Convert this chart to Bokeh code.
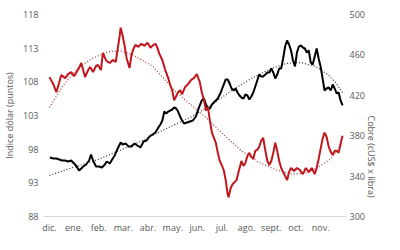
from bokeh.plotting import figure
from bokeh.models import Range1d, LinearAxis, FixedTicker
from bokeh.embed import file_html
from bokeh.resources import INLINE

meses = ["dic.", "ene.", "feb.", "mar.", "abr.", "may.", "jun.", "jul.", "ago.", "sept.", "oct.", "nov."]

cobre_x = [0, 0.16, 0.28, 0.40, 0.48, 0.64, 0.76, 0.88, 1.00, 1.08, 1.20, 1.29, 1.37, 1.45, 1.57, 1.65, 1.77, 1.89, 1.97, 2.09,
           2.17, 2.29, 2.37, 2.45, 2.57, 2.69, 2.77, 2.85, 2.89, 2.97, 3.05, 3.13, 3.25, 3.33, 3.41, 3.49, 3.61, 3.73, 3.86, 3.98,
           4.10, 4.22, 4.30, 4.38, 4.46, 4.58, 4.70, 4.82, 4.90, 4.98, 5.06, 5.14, 5.22, 5.30, 5.38, 5.50, 5.62, 5.74, 5.86, 5.98,
           6.10, 6.18, 6.27, 6.35, 6.43, 6.51, 6.59, 6.67, 6.75, 6.83, 6.91, 6.99, 7.07, 7.15, 7.23, 7.27, 7.35, 7.43, 7.51, 7.59,
           7.67, 7.79, 7.87, 7.95, 8.03, 8.11, 8.19, 8.27, 8.35, 8.43, 8.51, 8.59, 8.67, 8.76, 8.84, 8.92, 9.00, 9.08, 9.16, 9.24,
           9.32, 9.40, 9.48, 9.56, 9.64, 9.72, 9.80, 9.92, 10.04, 10.16, 10.28, 10.40, 10.52, 10.64, 10.76, 10.84, 10.92, 11.00, 11.08, 11.16,
           11.24, 11.33, 11.41, 11.49, 11.57, 11.65, 11.73, 11.81, 11.89]
cobre = [438, 431, 423, 433, 440, 437, 441, 443, 439, 442,
         447, 452, 445, 438, 445, 448, 443, 449, 450, 445,
         462, 455, 453, 452, 455, 453, 466, 479, 487, 479,
         469, 457, 447, 460, 466, 470, 468, 471, 469, 472,
         467, 470, 471, 467, 461, 455, 445, 437, 430, 425,
         415, 419, 423, 425, 421, 428, 431, 435, 437, 441,
         433, 423, 415, 405, 408, 395, 383, 378, 373, 363,
         355, 351, 346, 336, 322, 319, 328, 332, 334, 336,
         344, 355, 350, 353, 360, 363, 359, 357, 365, 366,
         369, 375, 378, 365, 355, 351, 355, 363, 373, 365,
         355, 348, 344, 340, 336, 344, 348, 345, 348, 346,
         342, 348, 344, 348, 342, 348, 357, 367, 377, 383,
         379, 369, 364, 361, 365, 365, 363, 372, 380]

dolar_x = [0.02, 0.16, 0.28, 0.40, 0.52, 0.64, 0.76, 0.88, 0.96, 1.08, 1.20, 1.29, 1.37, 1.49, 1.61, 1.69, 1.77, 1.89, 2.01, 2.13,
           2.25, 2.33, 2.45, 2.57, 2.65, 2.73, 2.81, 2.89, 2.97, 3.09, 3.21, 3.33, 3.45, 3.57, 3.69, 3.82, 3.94, 4.06, 4.18, 4.30,
           4.42, 4.50, 4.58, 4.66, 4.74, 4.82, 4.90, 4.98, 5.06, 5.14, 5.22, 5.30, 5.38, 5.46, 5.58, 5.70, 5.82, 5.94, 6.02, 6.10,
           6.18, 6.27, 6.35, 6.43, 6.51, 6.59, 6.71, 6.83, 6.95, 7.07, 7.15, 7.23, 7.31, 7.39, 7.47, 7.55, 7.63, 7.71, 7.79, 7.87,
           7.95, 8.03, 8.11, 8.19, 8.27, 8.35, 8.43, 8.51, 8.59, 8.67, 8.76, 8.84, 8.92, 9.00, 9.08, 9.16, 9.24, 9.32, 9.40, 9.48,
           9.56, 9.64, 9.72, 9.80, 9.88, 9.96, 10.04, 10.12, 10.20, 10.28, 10.36, 10.44, 10.52, 10.60, 10.68, 10.76, 10.84, 10.92, 11.00, 11.08,
           11.16, 11.24, 11.33, 11.41, 11.49, 11.57, 11.65, 11.73, 11.81, 11.89]
dolar = [96.76, 96.61, 96.61, 96.47, 96.32, 96.32, 96.17, 96.32, 96.02, 95.57,
         94.83, 95.13, 95.42, 95.72, 96.32, 97.21, 96.32, 95.42, 95.42, 95.28,
         95.72, 96.17, 95.87, 96.61, 97.06, 97.80, 98.40, 98.99, 98.69, 98.84,
         98.40, 98.40, 98.84, 98.54, 98.25, 99.14, 99.29, 99.88, 100.18, 100.48,
         101.22, 101.66, 102.26, 103.59, 103.30, 103.59, 103.74, 103.89, 104.19, 104.04,
         103.59, 102.85, 102.26, 101.81, 101.96, 102.11, 102.26, 102.85, 103.74, 104.49,
         105.23, 105.52, 104.63, 104.04, 104.04, 104.63, 105.08, 105.52, 106.42, 107.60,
         108.35, 108.35, 107.75, 107.01, 106.71, 107.01, 106.42, 105.97, 105.67, 105.52,
         106.12, 105.97, 105.38, 105.82, 106.42, 107.31, 108.20, 109.09, 108.79, 108.79,
         109.09, 109.39, 109.39, 109.98, 109.39, 108.49, 109.09, 109.98, 109.98, 111.46,
         113.24, 114.14, 113.54, 112.65, 111.16, 110.28, 112.35, 113.24, 113.40, 113.10,
         112.95, 112.35, 112.65, 110.87, 110.57, 111.76, 112.95, 111.46, 110.28, 108.49,
         106.71, 107.01, 107.16, 106.71, 107.60, 107.01, 106.27, 106.42, 105.23, 104.49]

tend_cobre_x = [0, 0.56, 1.16, 1.77, 2.37, 2.89, 3.37, 4.18, 4.70, 5.18, 5.78, 6.39, 7.11, 7.79, 8.47, 9.20, 9.88, 10.40, 10.92, 11.41, 11.89]
tend_cobre = [408, 430, 447, 457, 463, 464, 460, 449, 435, 422, 410, 397, 380, 365, 354, 346, 342, 343, 349, 357, 372]

tend_dolar_x = [0, 0.96, 1.97, 2.85, 3.78, 4.58, 5.78, 6.59, 7.39, 8.19, 9.00, 9.60, 10.20, 10.80, 11.29, 11.61, 11.89]
tend_dolar = [94.09, 95.28, 96.47, 97.80, 99.29, 100.77, 102.85, 104.63, 106.71, 108.49, 109.98, 110.72, 110.87, 110.28, 109.09, 107.90, 106.42]

ticks_izq = [88, 93, 98, 103, 108, 113, 118]
ticks_der = [300, 340, 380, 420, 460, 500]

FONT = "Open Sans"
GRIS = "#595959"

p = figure(width=400, height=250, output_backend="svg", toolbar_location=None,
           x_range=Range1d(-0.24, 12.05), y_range=Range1d(88, 118),
           min_border_left=40, min_border_right=54, min_border_top=14, min_border_bottom=34)
p.extra_y_ranges = {"cobre": Range1d(300, 500)}
p.outline_line_color = None
p.background_fill_color = "white"
p.border_fill_color = "white"
p.xgrid.visible = False
p.ygrid.visible = False

# trend lines
p.line(tend_dolar_x, tend_dolar, line_color="#303030", line_width=1.2, line_dash="1 2")
p.line(tend_cobre_x, tend_cobre, y_range_name="cobre", line_color="#a83a3a", line_width=1.2, line_dash="1 2")
# series
p.line(dolar_x, dolar, line_color="#000000", line_width=2)
p.line(cobre_x, cobre, y_range_name="cobre", line_color="#c0161c", line_width=2)


def style_axis(ax, standoff):
    ax.major_tick_line_color = None
    ax.minor_tick_line_color = None
    ax.major_tick_out = 0
    ax.major_tick_in = 0
    ax.minor_tick_out = 0
    ax.minor_tick_in = 0
    ax.major_label_text_font = FONT
    ax.major_label_text_font_size = "9px"
    ax.major_label_text_color = GRIS
    ax.major_label_standoff = standoff


xa = p.xaxis[0]
xa.ticker = FixedTicker(ticks=list(range(len(meses))))
xa.major_label_overrides = {i: m for i, m in enumerate(meses)}
xa.axis_line_color = "#d9d9d9"
style_axis(xa, 4)

ya = p.yaxis[0]
ya.ticker = FixedTicker(ticks=ticks_izq)
ya.axis_line_color = None
style_axis(ya, 5)
ya.axis_label = "Indice dólar (puntos)"
ya.axis_label_text_font = FONT
ya.axis_label_text_font_size = "9px"
ya.axis_label_text_font_style = "normal"
ya.axis_label_text_color = GRIS
ya.axis_label_standoff = 4

ra = LinearAxis(y_range_name="cobre", ticker=FixedTicker(ticks=ticks_der))
ra.axis_line_color = None
style_axis(ra, 3)
ra.axis_label = "Cobre (cUS$ x libra)"
ra.axis_label_text_font = FONT
ra.axis_label_text_font_size = "9px"
ra.axis_label_text_font_style = "normal"
ra.axis_label_text_color = GRIS
ra.axis_label_standoff = 4
ra.axis_label_orientation = -1.5707963
p.add_layout(ra, "right")

open("out.html", "w").write(file_html(p, INLINE))
